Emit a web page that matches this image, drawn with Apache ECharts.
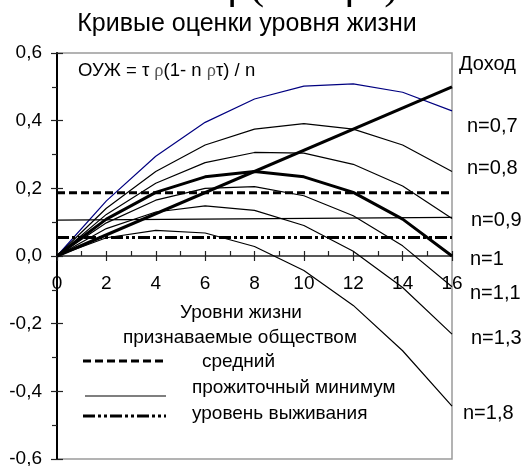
<!DOCTYPE html>
<html><head><meta charset="utf-8">
<script src="https://cdn.jsdelivr.net/npm/echarts@6/dist/echarts.min.js"></script>
<style>html,body{margin:0;padding:0;background:#fff}#c{width:522px;height:466px}</style>
</head><body><div id="c"></div>
<script>
// ---- data ----
const levels = [0, 2, 4, 6, 8, 10, 12, 14, 16];
const n07 = [0, 0.163, 0.295, 0.395, 0.464, 0.502, 0.509, 0.484, 0.429];
const n08 = [0, 0.141, 0.250, 0.328, 0.375, 0.391, 0.375, 0.328, 0.250];
const n09 = [0, 0.123, 0.215, 0.276, 0.306, 0.304, 0.271, 0.207, 0.111];
const n10 = [0, 0.109, 0.188, 0.234, 0.250, 0.234, 0.188, 0.109, 0.000];
const n11 = [0, 0.098, 0.165, 0.200, 0.205, 0.178, 0.119, 0.030, -0.091];
const n13 = [0, 0.081, 0.130, 0.148, 0.135, 0.090, 0.014, -0.093, -0.231];
const n18 = [0, 0.054, 0.076, 0.068, 0.028, -0.043, -0.146, -0.280, -0.444];
const incomeX = [0, 16];
const incomeY = [0, 0.5];
const lineX = [0, 16];
const averageY = [0.187, 0.187];
const minimumY = [0.106, 0.114];
const survivalY = [0.055, 0.055];
const seriesLabels = ['Доход', 'n=0,7', 'n=0,8', 'n=0,9', 'n=1', 'n=1,1', 'n=1,3', 'n=1,8'];
const legendLabels = ['средний', 'прожиточный минимум', 'уровень выживания'];
const titleText = 'Кривые оценки уровня жизни';
const xTitle = ['Уровни жизни', 'признаваемые обществом'];

const zip = (xs, ys) => xs.map((x, i) => [x, ys[i]]);
const F = "'Liberation Sans', Arial, sans-serif";
const chart = echarts.init(document.getElementById('c'));

function curve(name, ys, color, width, z) {
  return { name, type: 'line', data: zip(levels, ys), symbol: 'none', z: z || 2,
    lineStyle: { color, width }, emphasis: { disabled: true } };
}
function flat(name, ys, type, width) {
  return { name, type: 'line', data: zip(lineX, ys), symbol: 'none', z: 3,
    lineStyle: { color: '#000', width, type, cap: 'butt' }, emphasis: { disabled: true } };
}
const dashAvg = [8, 4];
const dashSurv = [12, 3, 3, 3, 3, 3];

const rightLabelPos = [[459, 64], [467, 126], [467, 168], [471, 220], [470, 259], [470, 293], [471, 338], [463, 413]];

function txt(text, x, y, size, align) {
  return { type: 'text', style: { text, x, y, font: size + 'px ' + F, fill: '#000', align: align || 'left', verticalAlign: 'middle' } };
}

const graphics = [
  { type: 'text', style: { text: 'на ОУЖ = τ ρ(1- n ρτ)/n.', x: -2, y: -14, font: "44px 'Liberation Serif', serif", fill: '#000', align: 'left', verticalAlign: 'middle' } },
  txt(titleText, 247, 24, 25, 'center'),
  { type: 'text', style: { text: '{a|ОУЖ = τ }{b|ρ}{a|(1- n }{b|ρ}{a|τ) / n}', x: 78, y: 71, verticalAlign: 'middle', align: 'left',
      rich: { a: { fontSize: 18.5, fontFamily: F, fill: '#000' }, b: { fontSize: 18.5, fontFamily: "'Liberation Serif', serif", fill: '#555' } } } },
  txt(xTitle[0], 241, 313, 19, 'center'),
  txt(xTitle[1], 240, 338, 19, 'center'),
  txt(legendLabels[0], 202, 362, 19),
  txt(legendLabels[1], 192, 388, 19),
  txt(legendLabels[2], 192, 414, 19),
  { type: 'line', shape: { x1: 83, y1: 361, x2: 165, y2: 361 }, style: { stroke: '#000', lineWidth: 3, lineDash: dashAvg } },
  { type: 'line', shape: { x1: 85, y1: 396, x2: 166, y2: 396 }, style: { stroke: '#000', lineWidth: 1.2 } },
  { type: 'line', shape: { x1: 83, y1: 416, x2: 166, y2: 416 }, style: { stroke: '#000', lineWidth: 3, lineDash: dashSurv } }
];
seriesLabels.forEach((t, i) => graphics.push(txt(t, rightLabelPos[i][0], rightLabelPos[i][1], 20)));

const xCommon = { min: 0, max: 16, interval: 2, type: 'value', splitLine: { show: false } };
const yCommon = { min: -0.6, max: 0.6, interval: 0.2, type: 'value', splitLine: { show: false } };
const tickStyle = { color: '#222', width: 1.2 };

chart.setOption({
  animation: false,
  backgroundColor: '#fff',
  grid: [
    // main plotting area
    { left: 57, right: 70, top: 53, bottom: 7, show: true, borderColor: '#9a9a9a', borderWidth: 1.5,
      containLabel: false, outerBoundsMode: 'none' },
    // upper half only: its bottom edge is the zero line, used to carry the x axis
    { left: 57, right: 70, top: 53, bottom: 210, show: false, containLabel: false, outerBoundsMode: 'none' }
  ],
  xAxis: [
    Object.assign({}, xCommon, { gridIndex: 0, show: false }),
    Object.assign({}, xCommon, {
      gridIndex: 1, position: 'bottom',
      axisLine: { onZero: false, lineStyle: { color: '#222', width: 1.5 } },
      axisTick: { show: true, inside: false, length: 5, lineStyle: tickStyle },
      axisLabel: { color: '#000', fontSize: 19, fontFamily: F, margin: 18 }
    }),
    Object.assign({}, xCommon, {
      gridIndex: 1, position: 'bottom',
      axisLine: { onZero: false, show: false },
      axisTick: { show: true, inside: true, length: 5, lineStyle: tickStyle },
      minorTick: { show: true, splitNumber: 2, length: 5, lineStyle: tickStyle },
      axisLabel: { show: false }
    })
  ],
  yAxis: [
    Object.assign({}, yCommon, {
      gridIndex: 0, position: 'left',
      axisLine: { show: true, onZero: false, lineStyle: { color: '#000', width: 2 } },
      axisTick: { show: true, inside: false, length: 6, lineStyle: tickStyle },
      minorTick: { show: true, splitNumber: 2, length: 5, lineStyle: tickStyle },
      axisLabel: { color: '#000', fontSize: 19, fontFamily: F, margin: 15,
        formatter: v => v.toFixed(1).replace('.', ',') }
    }),
    Object.assign({}, yCommon, {
      gridIndex: 0, position: 'left',
      axisLine: { show: false, onZero: false },
      axisTick: { show: true, inside: true, length: 6, lineStyle: tickStyle },
      axisLabel: { show: false }
    }),
    { gridIndex: 1, type: 'value', min: 0, max: 0.6, show: false }
  ],
  series: [
    curve('n=0,7', n07, '#000080', 1.2),
    curve('n=0,8', n08, '#000', 1.2),
    curve('n=0,9', n09, '#000', 1.2),
    curve('n=1,1', n11, '#000', 1.2),
    curve('n=1,3', n13, '#000', 1.2),
    curve('n=1,8', n18, '#000', 1.2),
    curve('n=1', n10, '#000', 3, 4),
    { name: 'Доход', type: 'line', data: zip(incomeX, incomeY), symbol: 'none', z: 4,
      lineStyle: { color: '#000', width: 3 }, emphasis: { disabled: true } },
    flat('средний', averageY, dashAvg, 3),
    flat('прожиточный минимум', minimumY, 'solid', 1.2),
    flat('уровень выживания', survivalY, dashSurv, 3)
  ],
  graphic: graphics
});
</script>
</body></html>
